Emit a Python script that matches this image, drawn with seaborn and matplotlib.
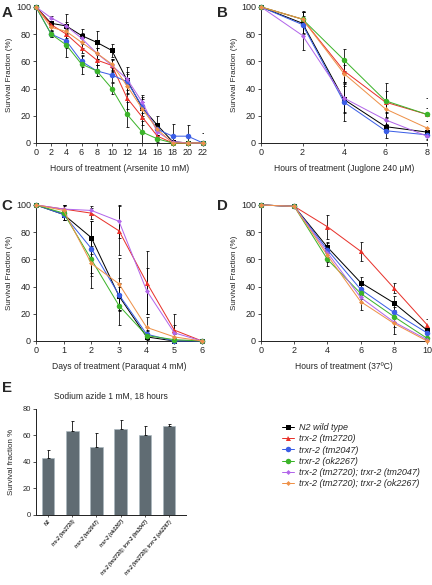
import numpy as np
import pandas as pd
import seaborn as sns
import matplotlib.pyplot as plt
from matplotlib.lines import Line2D

# strains, colours, markers
strains = ['N2 wild type', 'trx-2 (tm2720)', 'trxr-2 (tm2047)', 'trxr-2 (ok2267)',
           'trx-2 (tm2720); trxr-2 (tm2047)', 'trx-2 (tm2720); trxr-2 (ok2267)']
colors = ['#000000', '#e8322b', '#3b5ee6', '#3cb42a', '#b266ea', '#ee9148']
markers = ['s', '^', 'o', 'o', 'D', 'D']
msizes = [5, 5, 5.5, 5.5, 3.5, 3.5]

# Panel A: arsenite 10 mM
arsenite_x = [0, 2, 4, 6, 8, 10, 12, 14, 16, 18, 20, 22]
arsenite_y = [
    [100, 88, 86, 79, 74, 68, 46, 26, 13, 1, 0, 0],
    [100, 87, 80, 70, 61, 57, 33, 19, 5, 0, 0, 0],
    [100, 80, 75, 60, 53, 50, 45, 27, 10, 5, 5, 0],
    [100, 80, 72, 58, 53, 40, 21, 8, 3, 0, 0, 0],
    [100, 92, 86, 77, 66, 57, 47, 30, 8, 1, 0, 0],
    [100, 85, 82, 74, 66, 58, 42, 25, 10, 0, 0, 0],
]
arsenite_err = [
    [0, 2, 9, 5, 8, 5, 10, 8, 7, 1, 0, 7],
    [0, 2, 4, 4, 4, 5, 8, 6, 3, 0, 0, 0],
    [0, 2, 5, 4, 4, 5, 6, 5, 4, 9, 8, 0],
    [0, 2, 9, 7, 4, 4, 9, 8, 2, 0, 0, 0],
    [0, 1, 3, 4, 4, 4, 5, 5, 4, 0, 0, 0],
    [0, 2, 3, 4, 4, 4, 5, 5, 4, 0, 0, 0],
]

# Panel B: juglone 240 uM
juglone_x = [0, 2, 4, 6, 8]
juglone_y = [
    [100, 88, 32, 12, 8],
    [100, 91, 53, 30, 21],
    [100, 87, 30, 9, 6],
    [100, 91, 61, 31, 21],
    [100, 79, 33, 17, 5],
    [100, 91, 51, 25, 11],
]
juglone_err = [
    [0, 8, 10, 4, 3],
    [0, 5, 8, 8, 5],
    [0, 6, 14, 5, 3],
    [0, 6, 8, 13, 12],
    [0, 11, 10, 6, 3],
    [0, 5, 6, 6, 5],
]

# Panel C: paraquat 4 mM
paraquat_x = [0, 1, 2, 3, 4, 5, 6]
paraquat_y = [
    [100, 93, 76, 33, 3, 0, 0],
    [100, 97, 94, 81, 43, 8, 0],
    [100, 93, 68, 34, 5, 0, 0],
    [100, 94, 60, 26, 4, 1, 0],
    [100, 97, 96, 88, 37, 6, 0],
    [100, 96, 57, 42, 10, 3, 0],
]
paraquat_err = [
    [0, 4, 12, 10, 3, 0, 0],
    [0, 3, 4, 18, 23, 12, 0],
    [0, 4, 20, 12, 3, 0, 0],
    [0, 5, 10, 14, 3, 1, 0],
    [0, 3, 3, 12, 17, 6, 0],
    [0, 4, 18, 19, 8, 2, 0],
]

# Panel D: 37 C
heat_x = [0, 2, 4, 6, 8, 10]
heat_y = [
    [100, 99, 69, 43, 28, 8],
    [100, 99, 84, 66, 39, 12],
    [100, 99, 67, 38, 21, 6],
    [100, 99, 60, 35, 18, 2],
    [100, 99, 65, 32, 14, 1],
    [100, 99, 63, 29, 13, 0],
]
heat_err = [
    [0, 1, 4, 4, 5, 3],
    [0, 1, 9, 7, 4, 4],
    [0, 1, 5, 4, 4, 3],
    [0, 1, 5, 4, 4, 2],
    [0, 1, 5, 4, 4, 2],
    [0, 1, 5, 6, 8, 1],
]

# Panel E: sodium azide
azide_labels = ['N2', 'trx-2 (tm2720)', 'trxr-2 (tm2047)', 'trxr-2 (ok2267)',
                'trx-2 (tm2720); trxr-2 (tm2047)', 'trx-2 (tm2720); trxr-2 (ok2267)']
azide_vals = [43, 63, 51, 65, 60, 67]
azide_err = [6, 8, 11, 7, 7, 2]

sns.set_style('ticks')
plt.rcParams['font.family'] = ['Liberation Sans', 'DejaVu Sans']
plt.rcParams['axes.linewidth'] = 1.0

fig = plt.figure(figsize=(6, 8.125), dpi=72)


def survival_panel(rect, xs, ys, errs, xlabel, xticks):
    ax = fig.add_axes(rect)
    frames = []
    for name, y in zip(strains, ys):
        frames.append(pd.DataFrame({'x': xs, 'y': y, 'strain': name}))
    df = pd.concat(frames)
    sns.lineplot(data=df, x='x', y='y', hue='strain', style='strain',
                 palette=dict(zip(strains, colors)),
                 markers=dict(zip(strains, markers)), dashes=False,
                 linewidth=1, markeredgewidth=0,
                 legend=False, ax=ax)
    for line, ms in zip(ax.get_lines(), msizes):
        line.set_markersize(ms)
        line.set_clip_on(False)
        line.set_zorder(3)
    for y, e in zip(ys, errs):
        ax.errorbar(xs, y, yerr=e, fmt='none', ecolor='black',
                    elinewidth=0.8, capsize=1.5, capthick=0.8, zorder=2)
    ax.set_xlim(xs[0], xs[-1])
    ax.set_ylim(0, 100)
    ax.set_xticks(xticks)
    ax.set_yticks([0, 20, 40, 60, 80, 100])
    ax.tick_params(labelsize=9, length=3, width=0.8, pad=2)
    ax.set_xlabel(xlabel, fontsize=8.5, labelpad=7)
    ax.set_ylabel('Survival Fraction (%)', fontsize=8, labelpad=3)
    sns.despine(ax=ax)
    return ax


survival_panel([0.0833, 0.7556, 0.3866, 0.2325], arsenite_x, arsenite_y, arsenite_err,
               'Hours of treatment (Arsenite 10 mM)', arsenite_x)
survival_panel([0.6042, 0.7556, 0.3843, 0.2325], juglone_x, juglone_y, juglone_err,
               'Hours of treatment (Juglone 240 \u03bcM)', juglone_x)
survival_panel([0.0833, 0.4171, 0.3843, 0.2325], paraquat_x, paraquat_y, paraquat_err,
               'Days of treatment (Paraquat 4 mM)', paraquat_x)
survival_panel([0.6042, 0.4171, 0.3843, 0.2325], heat_x, heat_y, heat_err,
               'Hours of treatment (37\u00baC)', heat_x)

# bar panel
axe = fig.add_axes([0.0833, 0.1197, 0.3472, 0.1812])
sns.barplot(x=azide_labels, y=azide_vals, color='#5d6d76', width=0.52,
            edgecolor='#a9b8bf', linewidth=0.6, ax=axe)
axe.errorbar(range(len(azide_vals)), azide_vals, yerr=[[0] * 6, azide_err],
             fmt='none', ecolor='black', elinewidth=0.8, capsize=1.5, capthick=0.8)
axe.set_xlim(-0.5, 5.7)
axe.set_ylim(0, 80)
axe.set_yticks([0, 20, 40, 60, 80])
axe.tick_params(axis='y', labelsize=7.5, length=3, width=0.8, pad=2)
axe.tick_params(axis='x', labelsize=5, length=2, width=0.8, pad=2)
axe.set_xticks(range(len(azide_labels)))
axe.set_xticklabels(azide_labels, rotation=50, ha='right', rotation_mode='anchor',
                    style='italic', fontweight='bold')
axe.set_ylabel('Survival fraction %', fontsize=8, labelpad=8)
axe.set_title('Sodium azide 1 mM, 18 hours', fontsize=8.5, pad=10)
sns.despine(ax=axe)

# panel letters
for letter, (x, y) in zip('ABCDE', [(0.004, 0.978), (0.503, 0.978), (0.004, 0.648),
                                     (0.503, 0.648), (0.004, 0.336)]):
    fig.text(x, y, letter, fontsize=15, fontweight='bold', va='center')

# legend
handles = [Line2D([0], [0], color=c, marker=m, markersize=ms, markeredgewidth=0, linewidth=1)
           for c, m, ms in zip(colors, markers, msizes)]
leg = fig.legend(handles, strains, loc='upper left', bbox_to_anchor=(0.645, 0.283),
                 frameon=False, fontsize=9, handlelength=1.3, handletextpad=0.6,
                 labelspacing=0.25, borderaxespad=0)
for t in leg.get_texts():
    t.set_fontstyle('italic')

fig.savefig('out.png', dpi=72)
